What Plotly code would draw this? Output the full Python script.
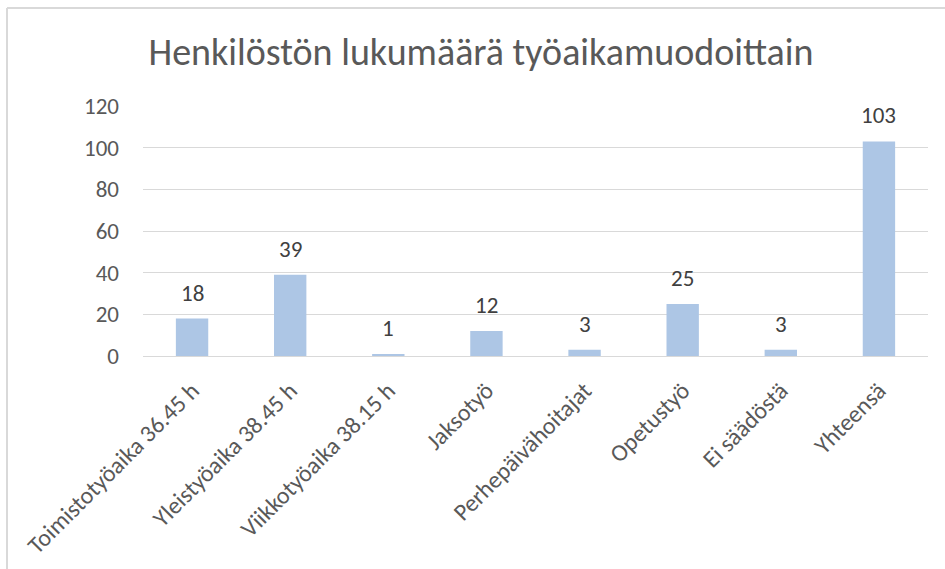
import plotly.graph_objects as go

categories = ["Toimistotyöaika 36.45 h", "Yleistyöaika 38.45 h", "Viikkotyöaika 38.15 h",
              "Jaksotyö", "Perhepäivähoitajat", "Opetustyö", "Ei säädöstä", "Yhteensä"]
values = [18, 39, 1, 12, 3, 25, 3, 103]
title_text = "Henkilöstön lukumäärä työaikamuodoittain"
y_ticks = [0, 20, 40, 60, 80, 100, 120]

FONT = "Carlito, Open Sans, Liberation Sans, sans-serif"
GREY = "#595959"

fig = go.Figure(go.Bar(
    x=categories, y=values,
    marker=dict(color="#ADC6E5", line=dict(width=0)),
    hoverinfo="x+y",
))

for c, v in zip(categories, values):
    fig.add_annotation(x=c, y=v, text=str(v), showarrow=False, yanchor="bottom",
                       yshift=10, font=dict(size=23, color="#404040", family=FONT))

W, H = 945, 569
L, R, T, B = 143, 17, 106, 213
pw, ph = W - L - R, H - T - B

def px_x(p):
    return (p - L) / pw

def px_y(p):
    return (H - B - p) / ph

fig.update_layout(
    width=W, height=H,
    margin=dict(l=L, r=R, t=T, b=B, autoexpand=False),
    paper_bgcolor="white", plot_bgcolor="white",
    showlegend=False,
    bargap=0.67,
    title=dict(text=title_text, x=481 / W, xref="container", xanchor="center",
               y=1 - 52 / H, yanchor="middle",
               font=dict(size=38, color=GREY, family=FONT)),
    font=dict(family=FONT, color=GREY),
    xaxis=dict(tickangle=-45, tickfont=dict(size=24, color=GREY), automargin=False,
               showgrid=False, showline=True, linecolor="#D9D9D9", linewidth=1, ticks="",
               ticklabelstandoff=10),
    yaxis=dict(range=[0, 120], tickvals=y_ticks, tickfont=dict(size=23, color=GREY),
               automargin=False,
               showgrid=True, gridcolor="#D9D9D9", gridwidth=1, zeroline=False,
               showline=False, ticks="", ticklabelstandoff=23),
    shapes=[
        dict(type="line", xref="paper", yref="paper", x0=px_x(7), x1=px_x(W), y0=px_y(8), y1=px_y(8),
             line=dict(color="#D9D9D9", width=2), layer="below"),
        dict(type="line", xref="paper", yref="paper", x0=px_x(7), x1=px_x(7), y0=px_y(8), y1=px_y(H),
             line=dict(color="#D9D9D9", width=2), layer="below"),
    ],
)

fig.write_html("out.html", config={"displayModeBar": False},
               post_script="document.body.style.margin='0';document.body.style.overflow='hidden';")
